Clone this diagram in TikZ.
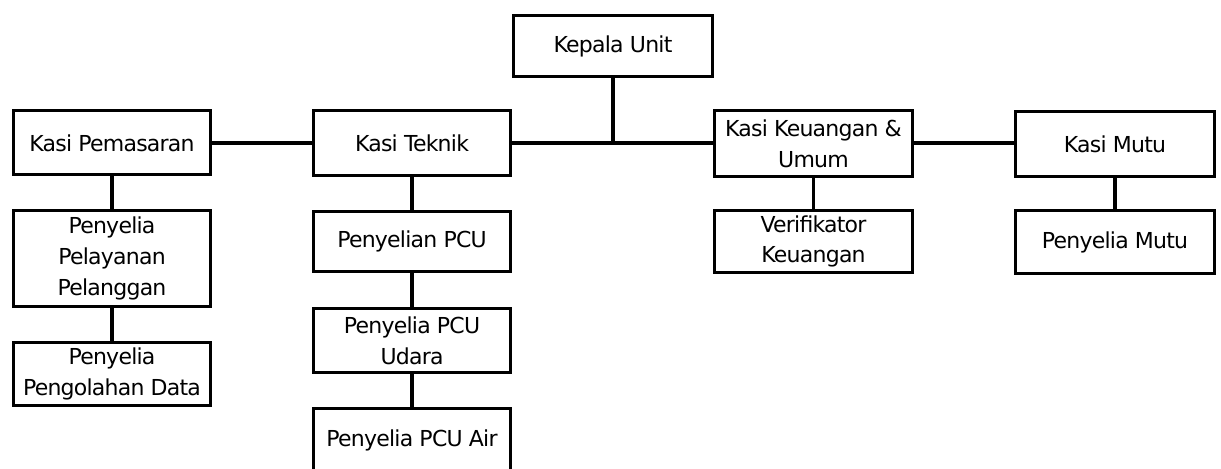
\documentclass[tikz,border=0pt]{standalone}
\usepackage{fontspec}
\setmainfont{DejaVu Sans}[LetterSpace=-3.5]
\usetikzlibrary{positioning}

\begin{document}
\begin{tikzpicture}[x=0.5pt,y=-0.5pt,
  unitbox/.style={draw,line width=1.5pt,minimum width=98.5pt,inner sep=0pt,align=center,
    font=\fontsize{11}{15.4}\selectfont},
  link/.style={line width=1.7pt}]
\useasboundingbox (0,0) rectangle (1221,469);
\clip (0,0) rectangle (1221,469);
\node[unitbox,minimum width=99.5pt,minimum height=30.5pt] (kepala) at (613,46) {Kepala Unit};
\node[unitbox,minimum height=32pt] (pemasaran) at (112,143) {Kasi Pemasaran};
\node[unitbox,minimum height=32.5pt] (teknik) at (412,143) {Kasi Teknik};
\node[unitbox,minimum width=99pt,minimum height=33pt] (keuangan) at (813.5,143.5) {Kasi Keuangan \&\\Umum};
\node[unitbox,minimum width=99.5pt,minimum height=32.5pt] (mutu) at (1115,144) {Kasi Mutu};
\node[unitbox,minimum height=48pt] (pelayanan) at (112,258.5) {Penyelia\\Pelayanan\\Pelanggan};
\node[unitbox,minimum height=31.5pt] (pengolahan) at (112,374) {Penyelia\\Pengolahan Data};
\node[unitbox,minimum height=30pt] (penyelianpcu) at (412,241.5) {Penyelian PCU};
\node[unitbox,minimum height=32pt] (pcuudara) at (412,340.5) {Penyelia PCU\\Udara};
\node[unitbox,minimum height=31.5pt] (pcuair) at (412,440) {Penyelia PCU Air};
\node[unitbox,minimum width=99pt,minimum height=31pt] (verifikator) at (813.5,241.5) {Verifikator\\Keuangan};
\node[unitbox,minimum width=99.5pt,minimum height=31.5pt] (penyeliamutu) at (1115,242) {Penyelia Mutu};
\draw[link] (pemasaran.east) -- (teknik.west);
\draw[link] (teknik.east) -- (keuangan.west |- teknik.east);
\draw[link] (keuangan.east |- teknik.east) -- (mutu.west |- teknik.east);
\draw[link] (kepala.south) -- (kepala.south |- teknik.east);
\draw[link] (pemasaran.south) -- (pelayanan.north);
\draw[link] (pelayanan.south) -- (pengolahan.north);
\draw[link] (teknik.south) -- (penyelianpcu.north);
\draw[link] (penyelianpcu.south) -- (pcuudara.north);
\draw[link] (pcuudara.south) -- (pcuair.north);
\draw[link] (keuangan.south) -- (verifikator.north);
\draw[link] (mutu.south) -- (penyeliamutu.north);
\end{tikzpicture}
\end{document}
